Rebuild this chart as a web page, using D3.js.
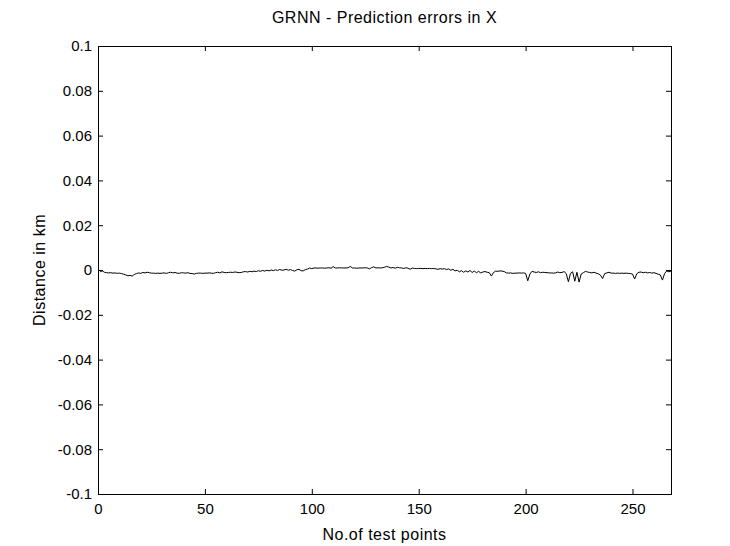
<!DOCTYPE html>
<html>
<head>
<meta charset="utf-8">
<script src="https://cdn.jsdelivr.net/npm/d3@7"></script>
<style>
  html, body { margin: 0; padding: 0; background: #fff; }
  svg { display: block; }
  text { font-family: "Liberation Sans", Arial, sans-serif; fill: #000; }
</style>
</head>
<body>
<script>
const title = "GRNN - Prediction errors in X";
const xLabel = "No.of test points";
const yLabel = "Distance in km";
const xTicks = [0, 50, 100, 150, 200, 250];
const yTicks = [-0.1, -0.08, -0.06, -0.04, -0.02, 0, 0.02, 0.04, 0.06, 0.08, 0.1];
const xDomain = [0, 268];
const yDomain = [-0.1, 0.1];
const errors = [
  -0.0008, -0.0004, -0.0010, -0.0012, -0.0013, -0.0012, -0.0014, -0.0013, -0.0015, -0.0014,
  -0.0016, -0.0019, -0.0022, -0.0026, -0.0024, -0.0027, -0.0020, -0.0016, -0.0013, -0.0015,
  -0.0011, -0.0013, -0.0010, -0.0012, -0.0014, -0.0014, -0.0015, -0.0014, -0.0015, -0.0014,
  -0.0013, -0.0015, -0.0012, -0.0010, -0.0013, -0.0011, -0.0014, -0.0015, -0.0012, -0.0013,
  -0.0014, -0.0012, -0.0015, -0.0016, -0.0018, -0.0015, -0.0014, -0.0014, -0.0015, -0.0014,
  -0.0014, -0.0013, -0.0014, -0.0015, -0.0012, -0.0010, -0.0013, -0.0008, -0.0011, -0.0012,
  -0.0011, -0.0010, -0.0011, -0.0009, -0.0010, -0.0012, -0.0011, -0.0008, -0.0007, -0.0009,
  -0.0006, -0.0008, -0.0005, -0.0007, -0.0003, -0.0006, -0.0002, -0.0005, -0.0001, -0.0004,
   0.0000, -0.0003,  0.0001, -0.0002,  0.0002, -0.0001,  0.0000,  0.0003, -0.0001,  0.0002,
  -0.0002, -0.0005,  0.0001,  0.0003, -0.0003, -0.0004,  0.0002,  0.0004,  0.0009,  0.0006,
   0.0009,  0.0009,  0.0008,  0.0009,  0.0009,  0.0008,  0.0009,  0.0010,  0.0008,  0.0015,
   0.0009,  0.0009,  0.0010,  0.0009,  0.0009,  0.0009,  0.0010,  0.0016,  0.0009,  0.0009,
   0.0008,  0.0009,  0.0009,  0.0009,  0.0010,  0.0009,  0.0005,  0.0011,  0.0014,  0.0009,
   0.0010,  0.0009,  0.0010,  0.0012,  0.0016,  0.0013,  0.0009,  0.0011,  0.0008,  0.0012,
   0.0010,  0.0009,  0.0007,  0.0010,  0.0008,  0.0003,  0.0009,  0.0007,  0.0006,  0.0007,
   0.0007,  0.0006,  0.0007,  0.0006,  0.0007,  0.0006,  0.0007,  0.0005,  0.0003,  0.0006,
   0.0004,  0.0006,  0.0002,  0.0005, -0.0001,  0.0003, -0.0004, -0.0001, -0.0008, -0.0003,
  -0.0010, -0.0004, -0.0009, -0.0002, -0.0011, -0.0005, -0.0012, -0.0006, -0.0013, -0.0009,
  -0.0007, -0.0010, -0.0012, -0.0027, -0.0011, -0.0005, -0.0006, -0.0004, -0.0005, -0.0007,
  -0.0013, -0.0014, -0.0013, -0.0015, -0.0014, -0.0014, -0.0013, -0.0014, -0.0013, -0.0015,
  -0.0048, -0.0018, -0.0006, -0.0009, -0.0011, -0.0008, -0.0012, -0.0010, -0.0011, -0.0012,
  -0.0013, -0.0013, -0.0014, -0.0013, -0.0009, -0.0012, -0.0011, -0.0007, -0.0016, -0.0052,
  -0.0015, -0.0008, -0.0050, -0.0010, -0.0054, -0.0018, -0.0012, -0.0006, -0.0009, -0.0011,
  -0.0013, -0.0010, -0.0014, -0.0017, -0.0023, -0.0038, -0.0016, -0.0013, -0.0010, -0.0014,
  -0.0014, -0.0015, -0.0014, -0.0015, -0.0014, -0.0015, -0.0014, -0.0015, -0.0016, -0.0018,
  -0.0040, -0.0017, -0.0010, -0.0009, -0.0012, -0.0010, -0.0013, -0.0011, -0.0014, -0.0012,
  -0.0015, -0.0019, -0.0022, -0.0045, -0.0016, -0.0004, -0.0008, -0.0005
];

const W = 730, H = 546;
const m = { left: 98, right: 59, top: 46, bottom: 52 };
const iw = W - m.left - m.right, ih = H - m.top - m.bottom;

const svg = d3.select("body").append("svg").attr("width", W).attr("height", H);
const g = svg.append("g").attr("transform", `translate(${m.left},${m.top})`);

const x = d3.scaleLinear().domain(xDomain).range([0, iw]);
const y = d3.scaleLinear().domain(yDomain).range([ih, 0]);

const fmtY = d => d === 0 ? "0" : String(+d.toFixed(2));
const fs = "15px";
const fsLab = "16px";

const tickLen = 5;
const axBottom = g.append("g").attr("transform", `translate(0,${ih})`)
  .call(d3.axisBottom(x).tickValues(xTicks).tickSize(-tickLen).tickPadding(tickLen + 6).tickFormat(d3.format("d")));
const axTop = g.append("g")
  .call(d3.axisTop(x).tickValues(xTicks).tickSize(-tickLen).tickFormat(""));
const axLeft = g.append("g")
  .call(d3.axisLeft(y).tickValues(yTicks).tickSize(-tickLen).tickPadding(6).tickFormat(fmtY));
const axRight = g.append("g").attr("transform", `translate(${iw},0)`)
  .call(d3.axisRight(y).tickValues(yTicks).tickSize(-tickLen).tickFormat(""));

[axBottom, axTop, axLeft, axRight].forEach(a => {
  a.selectAll("path.domain").attr("stroke", "#000").attr("stroke-width", 1);
  a.selectAll(".tick line").attr("stroke", "#000");
  a.selectAll("text").style("font-size", fs).style("font-family", '"Liberation Sans", Arial, sans-serif').attr("fill", "#000");
});
axBottom.selectAll("text").attr("dy", "0.6em");

const line = d3.line().x((d, i) => x(i + 1)).y(d => y(d));
g.append("path").datum(errors)
  .attr("d", line).attr("fill", "none").attr("stroke", "#000").attr("stroke-width", 1);

svg.append("text").attr("x", m.left + iw / 2).attr("y", 23)
  .attr("text-anchor", "middle").style("font-size", fsLab).style("letter-spacing", "0.5px").text(title);
svg.append("text").attr("x", m.left + iw / 2).attr("y", 540)
  .attr("text-anchor", "middle").style("font-size", fsLab).style("letter-spacing", "0.5px").text(xLabel);
svg.append("text").attr("transform", `translate(45,${m.top + ih / 2}) rotate(-90)`)
  .attr("text-anchor", "middle").style("font-size", fsLab).style("letter-spacing", "0.5px").text(yLabel);
</script>
</body>
</html>
